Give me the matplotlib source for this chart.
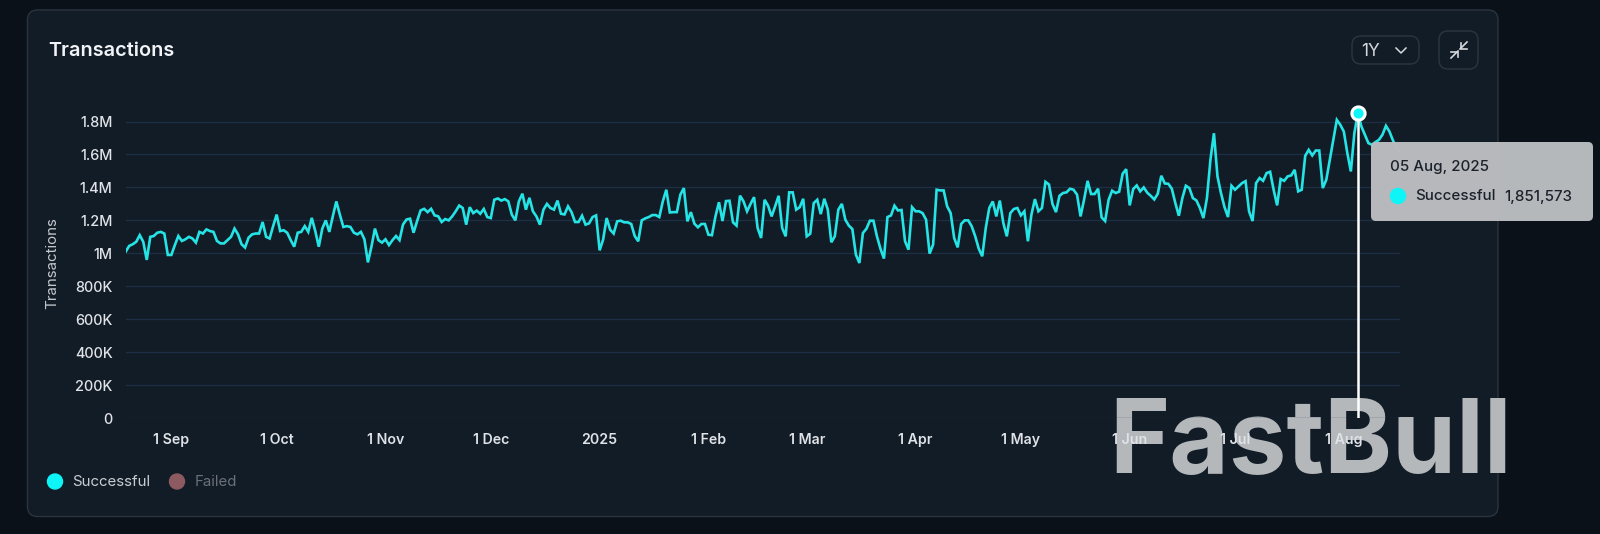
import datetime as dt
import matplotlib
matplotlib.use('Agg')
import matplotlib.pyplot as plt
import matplotlib.dates as mdates
from matplotlib.patches import FancyBboxPatch, Circle

plt.rcParams['font.family'] = ['Inter', 'DejaVu Sans']

# daily successful transactions, in millions
part1 = [1.01, 1.045, 1.055, 1.07, 1.11, 1.07, 0.96, 1.10, 1.105, 1.125,
         1.13, 1.12, 0.99, 0.99, 1.05, 1.105, 1.075, 1.085, 1.10, 1.09,
         1.065, 1.13, 1.12, 1.145, 1.135, 1.13, 1.075, 1.06, 1.06, 1.08,
         1.10, 1.15, 1.115, 1.055, 1.035, 1.095, 1.115, 1.12, 1.12, 1.19,
         1.10, 1.09, 1.165, 1.235, 1.135, 1.14, 1.125, 1.08, 1.04, 1.125,
         1.13, 1.165, 1.13, 1.215, 1.135, 1.04, 1.15, 1.20, 1.13, 1.225,
         1.315, 1.235, 1.16, 1.165, 1.16, 1.125, 1.115, 1.13, 1.085, 0.945,
         1.04, 1.15, 1.08, 1.065, 1.085, 1.05, 1.08, 1.105, 1.08, 1.175,
         1.205, 1.21, 1.125, 1.195, 1.26, 1.27, 1.25, 1.27, 1.23, 1.225]
part2 = [1.19, 1.208, 1.20, 1.224, 1.255, 1.29, 1.275, 1.174, 1.28, 1.244,
         1.259, 1.24, 1.269, 1.22, 1.214, 1.325, 1.333, 1.32, 1.329, 1.315,
         1.234, 1.20, 1.315, 1.362, 1.265, 1.337, 1.255, 1.224, 1.174, 1.265,
         1.30, 1.275, 1.265, 1.32, 1.24, 1.236, 1.285, 1.25, 1.19, 1.19,
         1.228, 1.174, 1.182, 1.22, 1.23, 1.018, 1.083, 1.214, 1.143, 1.12,
         1.194, 1.198, 1.188, 1.188, 1.178, 1.105, 1.073, 1.20, 1.212, 1.22,
         1.232, 1.232, 1.22, 1.315, 1.386, 1.248, 1.25, 1.25, 1.356, 1.396,
         1.194, 1.25, 1.18, 1.158, 1.178, 1.178, 1.113, 1.11, 1.224, 1.31,
         1.196, 1.317, 1.319, 1.188, 1.168, 1.35, 1.315, 1.255, 1.30, 1.341,
         1.154]
part3 = [1.093, 1.325, 1.289, 1.224, 1.285, 1.349, 1.154, 1.103, 1.37, 1.37,
         1.265, 1.28, 1.331, 1.103, 1.119, 1.305, 1.325, 1.238, 1.331, 1.265,
         1.067, 1.103, 1.265, 1.30, 1.204, 1.168, 1.147, 0.992, 0.941, 1.123,
         1.149, 1.198, 1.198, 1.103, 1.028, 0.968, 1.22, 1.23, 1.289, 1.26,
         1.263, 1.073, 1.022, 1.28, 1.255, 1.255, 1.244, 1.204, 0.998, 1.053,
         1.386, 1.382, 1.382, 1.285, 1.244, 1.093, 1.036, 1.178, 1.20, 1.20,
         1.164, 1.103, 1.028, 0.982, 1.154, 1.275, 1.315, 1.224, 1.32, 1.184,
         1.103, 1.244, 1.269, 1.275, 1.23, 1.255, 1.073, 1.234, 1.329, 1.255,
         1.275, 1.434, 1.418, 1.30, 1.25, 1.349, 1.366, 1.37, 1.392, 1.386,
         1.356, 1.224]
part4 = [1.325, 1.44, 1.36, 1.36, 1.392, 1.218, 1.196, 1.325, 1.38, 1.366,
         1.374, 1.483, 1.511, 1.291, 1.39, 1.412, 1.376, 1.40, 1.368, 1.349,
         1.327, 1.362, 1.471, 1.424, 1.422, 1.392, 1.305, 1.228, 1.335, 1.41,
         1.396, 1.335, 1.321, 1.275, 1.214, 1.335, 1.568, 1.729, 1.467, 1.366,
         1.281, 1.22, 1.41, 1.386, 1.406, 1.426, 1.438, 1.255, 1.196, 1.426,
         1.457, 1.44, 1.487, 1.495, 1.386, 1.291, 1.451, 1.44, 1.467, 1.473,
         1.507, 1.376, 1.386, 1.592, 1.628, 1.594, 1.624, 1.624, 1.396, 1.446,
         1.568, 1.689, 1.81, 1.78, 1.739, 1.608, 1.497, 1.729, 1.851573,
         1.77, 1.72, 1.669, 1.659, 1.675, 1.689, 1.72, 1.774, 1.739, 1.685,
         1.638, 1.618]
values = part1 + part2 + part3 + part4

start_date = dt.date(2024, 8, 19)
dates = [start_date + dt.timedelta(days=i) for i in range(len(values))]

hover_date = dt.date(2025, 8, 5)
hover_value = 1.851573

y_ticks = [0, 0.2, 0.4, 0.6, 0.8, 1.0, 1.2, 1.4, 1.6, 1.8]
y_labels = ['0', '200K', '400K', '600K', '800K', '1M', '1.2M', '1.4M', '1.6M', '1.8M']
x_ticks = [dt.date(2024, 9, 1), dt.date(2024, 10, 1), dt.date(2024, 11, 1), dt.date(2024, 12, 1),
           dt.date(2025, 1, 1), dt.date(2025, 2, 1), dt.date(2025, 3, 1), dt.date(2025, 4, 1),
           dt.date(2025, 5, 1), dt.date(2025, 6, 1), dt.date(2025, 7, 1), dt.date(2025, 8, 1)]
x_labels = ['1 Sep', '1 Oct', '1 Nov', '1 Dec', '2025', '1 Feb', '1 Mar', '1 Apr',
            '1 May', '1 Jun', '1 Jul', '1 Aug']

W, H = 1600, 534
fig = plt.figure(figsize=(16, 5.34), dpi=100, facecolor='#0b1119')


def pixel_axes(z):
    a = fig.add_axes([0, 0, 1, 1], zorder=z)
    a.set_xlim(0, W)
    a.set_ylim(H, 0)
    a.axis('off')
    return a


def round_box(a, x0, y0, x1, y1, r, **kw):
    a.add_patch(FancyBboxPatch((x0 + r, y0 + r), x1 - x0 - 2 * r, y1 - y0 - 2 * r,
                               boxstyle='round,pad=%f,rounding_size=%f' % (r, r), **kw))


# panel and watermark sit under the chart
back = pixel_axes(0)
round_box(back, 27.5, 10, 1498, 516.5, 10, facecolor='#121c27', edgecolor='#2a343f', linewidth=1)
back.text(1109, 473, 'FastBull', color='#b5b8bb', fontsize=74, fontweight='bold',
          ha='left', va='baseline')

# chart, positioned so 0 is at y=418 and 200K is 33 px
ax = fig.add_axes([125.7 / W, 1 - 418 / H, (1400 - 125.7) / W, 318 / H], zorder=1)
ax.patch.set_alpha(0)
ax.set_xlim(mdates.date2num(start_date), mdates.date2num(start_date) + 363)
ax.set_ylim(0, 318 / 164.7)
for s in ax.spines.values():
    s.set_visible(False)
ax.set_yticks(y_ticks, y_labels)
ax.set_xticks([mdates.date2num(d) for d in x_ticks], x_labels)
ax.tick_params(axis='both', length=0, colors='#dfe2e6')
ax.tick_params(axis='y', labelsize=10.4, pad=9.5)
ax.tick_params(axis='x', labelsize=10.2, pad=10.5)
for lab in ax.get_xticklabels():
    lab.set_fontweight('semibold')
for lab in ax.get_yticklabels():
    lab.set_fontweight('medium')
    lab.set_va('center_baseline')
ax.grid(axis='y', color='#1b3045', linewidth=0.9)
ax.set_axisbelow(True)

ax.plot(dates, values, color='#25e4e6', linewidth=1.9, solid_joinstyle='miter', zorder=3)
ax.plot([hover_date, hover_date], [0, hover_value], color='white', linewidth=1.8, zorder=4)
ax.plot([hover_date], [hover_value], 'o', color='#0df5f7', markeredgecolor='white',
        markeredgewidth=2.2, markersize=9.5, zorder=5, clip_on=False)

# everything else is page furniture, drawn in pixels
ui = pixel_axes(2)
ui.text(48, 51.5, 'Transactions', color='#f1f3f6', fontsize=14.3, fontweight='semibold',
        ha='left', va='center')
ui.text(52, 263, 'Transactions', color='#c4c8cd', fontsize=10.9, rotation=90,
        ha='center', va='center')

# legend
ui.add_patch(Circle((55, 481.5), 7.5, color='#0df5f7'))
ui.text(72.5, 481.5, 'Successful', color='#c9cdd2', fontsize=10.8, ha='left', va='center')
ui.add_patch(Circle((177, 481.5), 7.5, color='#8c5a60'))
ui.text(195, 481.5, 'Failed', color='#6b7079', fontsize=10.8, ha='left', va='center')

# range selector and collapse button
round_box(ui, 1352, 36, 1419, 64, 9, facecolor='none', edgecolor='#2c3640', linewidth=1)
ui.text(1361, 51, '1Y', color='#d5d8dc', fontsize=12.5, ha='left', va='center')
ui.plot([1396, 1401, 1406], [48, 53, 48], color='#d5d8dc', linewidth=1.1)
round_box(ui, 1439, 31, 1478, 69, 9, facecolor='none', edgecolor='#2c3640', linewidth=1)
ui.plot([1451, 1458], [58, 51], color='#d5d8dc', linewidth=1.2)
ui.plot([1451, 1457.5, 1457.5], [51.5, 51.5, 57], color='#d5d8dc', linewidth=1.2)
ui.plot([1460, 1467], [49, 42], color='#d5d8dc', linewidth=1.2)
ui.plot([1460.5, 1460.5, 1466.5], [43, 49, 49], color='#d5d8dc', linewidth=1.2)

# tooltip
round_box(ui, 1371, 142, 1593, 221, 5, facecolor='#babcbf', edgecolor='none', alpha=0.98)
ui.text(1390, 167.5, '05 Aug, 2025', color='#1b222b', fontsize=10.9, fontweight='medium',
        ha='left', va='center')
ui.add_patch(Circle((1398, 196), 7.5, color='#0df5f7'))
ui.text(1415, 196.5, 'Successful', color='#1b222b', fontsize=10.9, fontweight='medium',
        ha='left', va='center')
ui.text(1572.5, 196.5, '1,851,573', color='#1b222b', fontsize=10.9, fontweight='medium',
        ha='right', va='center')

fig.savefig('out.png', dpi=100, facecolor=fig.get_facecolor())
